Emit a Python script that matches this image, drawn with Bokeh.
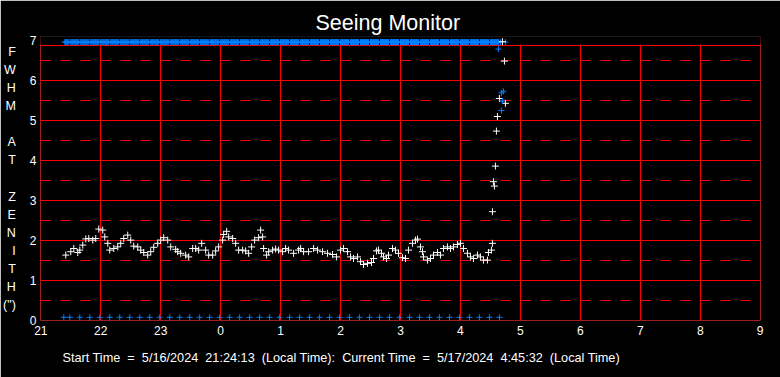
from bokeh.plotting import figure
from bokeh.models import Range1d, FixedTicker, Grid, Title, BoxAnnotation
from bokeh.embed import file_html
from bokeh.resources import INLINE

# ---------------- data ----------------
title_text = "Seeing Monitor"
ylabel_letters = ["F", "W", "H", "M", " ", "A", "T", " ", "Z", "E", "N", "I", "T", "H", "(\")"]
footer_text = ("Start Time\u00a0 =\u00a0 5/16/2024\u00a0 21:24:13\u00a0 (Local Time):\u00a0 "
               "Current Time\u00a0 =\u00a0 5/17/2024\u00a0 4:45:32\u00a0 (Local Time)")

x_tick_values = list(range(21, 34))
x_tick_labels = ["21", "22", "23", "0", "1", "2", "3", "4", "5", "6", "7", "8", "9"]
y_tick_values = [0, 1, 2, 3, 4, 5, 6, 7]
y_solid_lines = [0, 1, 2, 3, 4, 5, 6, 6.875]
y_dashed_lines = [0.5, 1.5, 2.5, 3.5, 4.5, 5.5, 6.5]

# FWHM samples: minutes after 21:00 and seeing value (arcsec)
white_min = [25, 30, 33, 37, 39, 42, 45, 48, 52, 55, 58, 62, 64, 67, 69, 73, 77, 80, 83, 87,
             90, 93, 97, 100, 103, 107, 110, 113, 117, 120, 123, 127, 130, 135, 137, 140, 145, 148, 152, 155,
             158, 161, 165, 168, 172, 175, 178, 182, 183, 186, 188, 192, 195, 198, 202, 205, 208, 211, 214, 218,
             220, 222, 223, 226, 228, 232, 235, 238, 242, 245, 248, 253, 258, 260, 263, 268, 273, 277, 282, 287,
             292, 296, 300, 303, 307, 310, 313, 317, 320, 323, 327, 331, 333, 336, 338, 341, 343, 346, 348, 352,
             355, 358, 362, 365, 368, 372, 375, 377, 380, 382, 383, 387, 390, 393, 397, 400, 403, 407, 410, 413,
             417, 420, 423, 427, 430, 433, 437, 440, 443, 447, 448, 451, 452, 452, 453, 454, 455, 456, 457, 459,
             462, 464, 465]
white_fwhm = [1.625, 1.71, 1.79, 1.69, 1.75, 1.875, 2.03, 2.04, 2.0, 2.04, 2.275, 2.25, 2.08, 1.92, 1.75, 1.79, 1.83, 1.92, 2.04, 2.125,
              2.0, 1.85, 1.83, 1.75, 1.69, 1.625, 1.71, 1.82, 1.92, 2.0, 2.06, 2.0, 1.83, 1.77, 1.71, 1.67, 1.625, 1.58, 1.79, 1.79,
              1.75, 1.92, 1.75, 1.625, 1.625, 1.73, 1.83, 2.0, 2.14, 2.22, 2.08, 2.04, 1.92, 1.75, 1.75, 1.73, 1.67, 1.83, 2.0, 2.06,
              2.25, 2.08, 1.79, 1.625, 1.71, 1.75, 1.775, 1.75, 1.71, 1.79, 1.75, 1.67, 1.75, 1.79, 1.71, 1.71, 1.79, 1.75, 1.71, 1.67,
              1.64, 1.58, 1.75, 1.79, 1.71, 1.58, 1.54, 1.58, 1.46, 1.39, 1.42, 1.44, 1.54, 1.73, 1.75, 1.67, 1.58, 1.54, 1.625, 1.79,
              1.75, 1.67, 1.56, 1.54, 1.75, 1.92, 2.0, 2.025, 1.83, 1.71, 1.58, 1.5, 1.54, 1.625, 1.69, 1.625, 1.79, 1.83, 1.79, 1.83,
              1.89, 1.92, 1.79, 1.67, 1.58, 1.54, 1.625, 1.58, 1.5, 1.5, 1.69, 1.75, 1.92, 2.71, 3.46, 3.35, 3.85, 4.725, 5.09, 5.54,
              6.96, 6.475, 5.42]

# second (blue) series: off-scale high readings, low readings, and final points
blue_low_min = [23] + list(range(29, 460, 10))
blue_low_fwhm = [0.07] * len(blue_low_min)
blue_high_min = [m for m in range(23, 461) if m not in blue_low_min] + [465]
blue_high_fwhm = [6.95] * len(blue_high_min)
blue_spike_min = [458, 461, 461, 462, 463]
blue_spike_fwhm = [6.775, 5.68, 5.24, 5.475, 5.72]

# ---------------- styling ----------------
RED = "#FF0000"
BLUE = "#0080FF"
FONT = "Liberation Sans"

X0, X1 = 20.995, 33.005
Y0, Y1 = -0.01, 7.09
FL, FR, FT, FB = 40, 760, 36, 320   # frame edges in px


def hx(minutes):
    return [21 + m / 60.0 for m in minutes]


p = figure(width=780, height=377, x_range=Range1d(X0, X1), y_range=Range1d(Y0, Y1),
           output_backend="svg", toolbar_location=None, title=None,
           background_fill_color="black", border_fill_color="black",
           min_border_left=FL, min_border_right=780 - FR, min_border_top=FT, min_border_bottom=377 - FB,
           outline_line_color=None)

# axes
for ax in (p.xaxis[0], p.yaxis[0]):
    ax.axis_line_color = None
    ax.major_tick_line_color = None
    ax.minor_tick_line_color = None
    ax.major_tick_in = 0
    ax.major_tick_out = 0
    ax.minor_tick_out = 0
    ax.major_label_text_color = "white"
    ax.major_label_text_font = FONT
    ax.major_label_text_font_size = "12px"

p.xaxis[0].ticker = FixedTicker(ticks=x_tick_values)
p.xaxis[0].major_label_overrides = {v: l for v, l in zip(x_tick_values, x_tick_labels)}
p.xaxis[0].major_label_standoff = 5
p.yaxis[0].ticker = FixedTicker(ticks=y_tick_values)
p.yaxis[0].major_label_standoff = 4

# stacked vertical y-axis title
p.yaxis[0].axis_label = "\n".join(ylabel_letters)
p.yaxis[0].axis_label_orientation = "horizontal"
p.yaxis[0].axis_label_text_color = "white"
p.yaxis[0].axis_label_text_font = FONT
p.yaxis[0].axis_label_text_font_size = "12.5px"
p.yaxis[0].axis_label_text_font_style = "normal"
p.yaxis[0].axis_label_text_line_height = 1.293
p.yaxis[0].axis_label_text_align = "center"
p.yaxis[0].axis_label_standoff = 11

# grids
p.xgrid[0].ticker = FixedTicker(ticks=x_tick_values)
p.xgrid[0].grid_line_color = RED
p.xgrid[0].grid_line_width = 1
p.xgrid[0].grid_line_alpha = 1
p.ygrid[0].ticker = FixedTicker(ticks=y_solid_lines)
p.ygrid[0].grid_line_color = RED
p.ygrid[0].grid_line_width = 1
p.ygrid[0].grid_line_alpha = 1

dash_grid = Grid(dimension=1, ticker=FixedTicker(ticks=y_dashed_lines),
                 grid_line_color=RED, grid_line_width=1, grid_line_dash="10 10")
p.add_layout(dash_grid)

# hide grid above the plotting box top border
p.add_layout(BoxAnnotation(bottom=6.9, fill_color="black", fill_alpha=1.0,
                           line_color="black", line_alpha=1.0, line_width=1, level="underlay"))

# data
p.scatter(hx(blue_high_min), blue_high_fwhm, marker="cross", size=6, line_color=BLUE, line_width=1)
p.scatter(hx(blue_low_min), blue_low_fwhm, marker="cross", size=6, line_color=BLUE, line_width=1)
p.scatter(hx(white_min), white_fwhm, marker="cross", size=7, line_color="white", line_width=1)
p.scatter(hx(blue_spike_min), blue_spike_fwhm, marker="cross", size=6, line_color=BLUE, line_width=1)

# texts
p.add_layout(Title(text=title_text, align="left", offset=275, standoff=3,
                   text_color="white", text_font=FONT, text_font_size="21.5px",
                   text_font_style="normal"), "above")
# small spacer between tick labels and footer line
p.add_layout(Title(text="\u00a0", standoff=0, text_font_size="4px", text_color="black"), "below")
p.add_layout(Title(text=footer_text, align="left", offset=22, standoff=8,
                   text_color="white", text_font=FONT, text_font_size="12.7px",
                   text_font_style="normal"), "below")

open("out.html", "w").write(file_html(p, INLINE))
